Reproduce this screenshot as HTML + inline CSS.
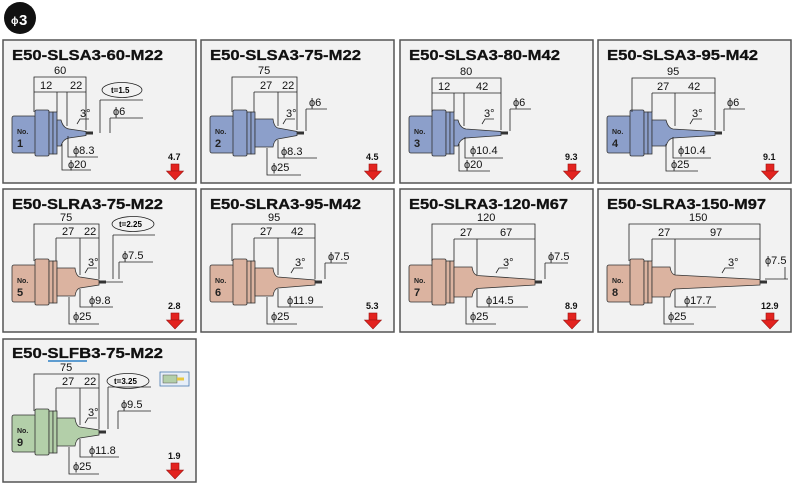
<!DOCTYPE html>
<html><head><meta charset="utf-8"><style>
html,body{margin:0;padding:0;background:#fff;}
svg{display:block;font-family:"Liberation Sans",sans-serif;}
.pn{fill:#f2f2f2;stroke:#555;stroke-width:1.5}
.tt{font-weight:900;font-size:15px;fill:#111;stroke:#111;stroke-width:0.3}
.d{stroke:#222;stroke-width:0.8;fill:none}
.lb{font-size:11px;fill:#111}
.sh{stroke:#333;stroke-width:0.8}
.nb{font-weight:bold;fill:#222}
.tip{fill:#333}
.wt{font-weight:bold;font-size:9px;fill:#111}
.ar{fill:#e3231f;stroke:#9a1512;stroke-width:0.6}
</style></head><body>
<svg width="793" height="485" viewBox="0 0 793 485" xmlns="http://www.w3.org/2000/svg">
<defs>
<g id="hold">
<rect x="9" y="76" width="24" height="37" rx="2"/>
<rect x="32" y="70" width="14" height="46" rx="1.5"/>
<rect x="46" y="72" width="4" height="42"/>
<rect x="50" y="72" width="4" height="42"/>
</g>
<g id="wa"><rect x="168" y="124" width="8" height="7"/><path d="M163.5,131 H180.5 L172,140 Z"/></g>
</defs>
<circle cx="20" cy="18" r="16" fill="#111"/>
<text x="11" y="24" font-size="10" fill="#fff" font-weight="bold">ϕ</text>
<text x="19" y="25" font-size="15" fill="#fff" font-weight="bold">3</text>

<!-- Panel 1 -->
<g transform="translate(3,40)">
<rect class="pn" x="0" y="0" width="193" height="143"/>
<text class="tt" x="9" y="20" textLength="151" lengthAdjust="spacingAndGlyphs">E50-SLSA3-60-M22</text>
<g fill="#8c9fca" class="sh"><use href="#hold"/><path d="M54,80 H58 Q60,88 66,89 L83,91.5 V95.5 L66,98 Q60,99 58,106 H54 Z"/></g>
<rect class="tip" x="83" y="91.5" width="7" height="3"/>
<text class="nb" x="14" y="94" font-size="7">No.</text><text class="nb" x="14" y="107" font-size="11">1</text>
<g class="d"><path d="M31,72 V37 H83 V90 M31,52 H83 M54,52 V72 M64,52 V86 M97,60 H140 M97,60 V93 M107,78 H140 M107,78 V93 M65,96 V117 H95 M59,104 V130 H88 M74,84 L77,79 H86"/><ellipse cx="119" cy="50" rx="20" ry="7.5"/></g>
<text class="lb" x="51" y="34">60</text><text class="lb" x="37" y="49">12</text><text class="lb" x="67" y="49">22</text>
<text class="lb" x="77" y="77" font-size="9">3°</text><text class="lb" x="110" y="75">ϕ6</text>
<text class="lb" x="70" y="114">ϕ8.3</text><text class="lb" x="65" y="128">ϕ20</text>
<text x="108" y="53" font-size="8" font-weight="bold">t=1.5</text>
<text class="wt" x="165" y="120">4.7</text><use href="#wa" class="ar"/>
</g>

<!-- Panel 2 -->
<g transform="translate(201,40)">
<rect class="pn" x="0" y="0" width="193" height="143"/>
<text class="tt" x="9" y="20" textLength="151" lengthAdjust="spacingAndGlyphs">E50-SLSA3-75-M22</text>
<g fill="#8c9fca" class="sh"><use href="#hold"/><path d="M54,79 H72 Q73,87 77,88 L96,91.5 V95.5 L77,99 Q73,100 72,107 H54 Z"/></g>
<rect class="tip" x="96" y="91.5" width="7" height="3"/>
<text class="nb" x="14" y="94" font-size="7">No.</text><text class="nb" x="14" y="107" font-size="11">2</text>
<g class="d"><path d="M31,72 V37 H96 V90 M53,52 H96 M53,52 V72 M77,52 V86 M105,69 H126 M105,69 V91 M77,100 V118 H116 M66,108 V135 H100 M82,84 L85,79 H94"/></g>
<text class="lb" x="57" y="34">75</text><text class="lb" x="59" y="49">27</text><text class="lb" x="81" y="49">22</text>
<text class="lb" x="85" y="77" font-size="9">3°</text><text class="lb" x="108" y="66">ϕ6</text>
<text class="lb" x="80" y="115">ϕ8.3</text><text class="lb" x="70" y="131">ϕ25</text>
<text class="wt" x="165" y="120">4.5</text><use href="#wa" class="ar"/>
</g>

<!-- Panel 3 -->
<g transform="translate(400,40)">
<rect class="pn" x="0" y="0" width="193" height="143"/>
<text class="tt" x="9" y="20" textLength="151" lengthAdjust="spacingAndGlyphs">E50-SLSA3-80-M42</text>
<g fill="#8c9fca" class="sh"><use href="#hold"/><path d="M54,80 H58 Q60,88 66,89 L101,91.5 V95.5 L66,98 Q60,99 58,106 H54 Z"/></g>
<rect class="tip" x="101" y="91.5" width="7" height="3"/>
<text class="nb" x="14" y="94" font-size="7">No.</text><text class="nb" x="14" y="107" font-size="11">3</text>
<g class="d"><path d="M32,72 V38 H101 V90 M32,53 H101 M54,53 V72 M64,53 V86 M110,69 H131 M110,69 V91 M65,97 V118 H103 M59,104 V131 H90 M82,84 L85,79 H94"/></g>
<text class="lb" x="60" y="35">80</text><text class="lb" x="38" y="50">12</text><text class="lb" x="76" y="50">42</text>
<text class="lb" x="84" y="77" font-size="9">3°</text><text class="lb" x="113" y="66">ϕ6</text>
<text class="lb" x="70" y="114">ϕ10.4</text><text class="lb" x="64" y="128">ϕ20</text>
<text class="wt" x="165" y="120">9.3</text><use href="#wa" class="ar"/>
</g>

<!-- Panel 4 -->
<g transform="translate(598,40)">
<rect class="pn" x="0" y="0" width="193" height="143"/>
<text class="tt" x="9" y="20" textLength="151" lengthAdjust="spacingAndGlyphs">E50-SLSA3-95-M42</text>
<g fill="#8c9fca" class="sh"><use href="#hold"/><path d="M54,80 H68 Q70,88 75,89 L117,91.5 V95.5 L75,98 Q70,99 68,106 H54 Z"/></g>
<rect class="tip" x="117" y="91.5" width="7" height="3"/>
<text class="nb" x="14" y="94" font-size="7">No.</text><text class="nb" x="14" y="107" font-size="11">4</text>
<g class="d"><path d="M34,72 V38 H117 V90 M54,53 H117 M54,53 V72 M77,53 V86 M126,69 H147 M126,69 V91 M75,97 V118 H113 M68,104 V131 H100 M92,84 L95,79 H104"/></g>
<text class="lb" x="69" y="35">95</text><text class="lb" x="59" y="50">27</text><text class="lb" x="90" y="50">42</text>
<text class="lb" x="94" y="77" font-size="9">3°</text><text class="lb" x="129" y="66">ϕ6</text>
<text class="lb" x="80" y="114">ϕ10.4</text><text class="lb" x="73" y="128">ϕ25</text>
<text class="wt" x="165" y="120">9.1</text><use href="#wa" class="ar"/>
</g>

<!-- Panel 5 -->
<g transform="translate(3,189)">
<rect class="pn" x="0" y="0" width="193" height="143"/>
<text class="tt" x="9" y="20" textLength="151" lengthAdjust="spacingAndGlyphs">E50-SLRA3-75-M22</text>
<g fill="#dbb3a0" class="sh"><use href="#hold"/><path d="M54,79 H72 Q73,87 77,88 L96,91 V96 L77,99 Q73,100 72,107 H54 Z"/></g>
<rect class="tip" x="96" y="91.5" width="7" height="3"/>
<text class="nb" x="14" y="94" font-size="7">No.</text><text class="nb" x="14" y="107" font-size="11">5</text>
<g class="d"><path d="M31,72 V35 H96 V90 M53,49 H96 M53,49 V72 M77,49 V86 M110,46 H152 M110,46 V90 M116,73 H150 M116,73 V90 M103,93 H120 M77,100 V118 H110 M66,108 V135 H96 M82,84 L85,79 H94"/><ellipse cx="130" cy="35" rx="21" ry="7.5"/></g>
<text class="lb" x="57" y="32">75</text><text class="lb" x="59" y="46">27</text><text class="lb" x="81" y="46">22</text>
<text class="lb" x="85" y="77" font-size="9">3°</text><text class="lb" x="119" y="70">ϕ7.5</text>
<text class="lb" x="86" y="115">ϕ9.8</text><text class="lb" x="70" y="131">ϕ25</text>
<text x="116" y="38" font-size="8" font-weight="bold">t=2.25</text>
<text class="wt" x="165" y="120">2.8</text><use href="#wa" class="ar"/>
</g>

<!-- Panel 6 -->
<g transform="translate(201,189)">
<rect class="pn" x="0" y="0" width="193" height="143"/>
<text class="tt" x="9" y="20" textLength="151" lengthAdjust="spacingAndGlyphs">E50-SLRA3-95-M42</text>
<g fill="#dbb3a0" class="sh"><use href="#hold"/><path d="M54,79 H72 Q73,87 77,88 L114,91 V96 L77,99 Q73,100 72,107 H54 Z"/></g>
<rect class="tip" x="114" y="91.5" width="7" height="3"/>
<text class="nb" x="14" y="94" font-size="7">No.</text><text class="nb" x="14" y="107" font-size="11">6</text>
<g class="d"><path d="M31,72 V35 H114 V90 M53,49 H114 M53,49 V72 M77,49 V86 M124,74 H146 M124,74 V90 M77,100 V118 H122 M66,108 V135 H96 M90,84 L93,79 H102"/></g>
<text class="lb" x="67" y="32">95</text><text class="lb" x="59" y="46">27</text><text class="lb" x="90" y="46">42</text>
<text class="lb" x="94" y="77" font-size="9">3°</text><text class="lb" x="127" y="71">ϕ7.5</text>
<text class="lb" x="86" y="115">ϕ11.9</text><text class="lb" x="70" y="131">ϕ25</text>
<text class="wt" x="165" y="120">5.3</text><use href="#wa" class="ar"/>
</g>

<!-- Panel 7 -->
<g transform="translate(400,189)">
<rect class="pn" x="0" y="0" width="193" height="143"/>
<text class="tt" x="9" y="20" textLength="159" lengthAdjust="spacingAndGlyphs">E50-SLRA3-120-M67</text>
<g fill="#dbb3a0" class="sh"><use href="#hold"/><path d="M54,78 H72 Q73,85 77,86.5 L135,90.5 V96 L77,99.5 Q73,101 72,108 H54 Z"/></g>
<rect class="tip" x="135" y="91.5" width="7" height="3"/>
<text class="nb" x="14" y="94" font-size="7">No.</text><text class="nb" x="14" y="107" font-size="11">7</text>
<g class="d"><path d="M32,72 V35 H135 V90 M54,50 H135 M54,50 V72 M77,50 V86 M145,74 H168 M145,74 V90 M77,100 V118 H128 M66,108 V135 H96 M96,84 L99,79 H108"/></g>
<text class="lb" x="77" y="32">120</text><text class="lb" x="60" y="47">27</text><text class="lb" x="100" y="47">67</text>
<text class="lb" x="103" y="77" font-size="9">3°</text><text class="lb" x="148" y="71">ϕ7.5</text>
<text class="lb" x="86" y="115">ϕ14.5</text><text class="lb" x="70" y="131">ϕ25</text>
<text class="wt" x="165" y="120">8.9</text><use href="#wa" class="ar"/>
</g>

<!-- Panel 8 -->
<g transform="translate(598,189)">
<rect class="pn" x="0" y="0" width="193" height="143"/>
<text class="tt" x="9" y="20" textLength="159" lengthAdjust="spacingAndGlyphs">E50-SLRA3-150-M97</text>
<g fill="#dbb3a0" class="sh"><use href="#hold"/><path d="M54,78 H72 Q73,85 77,86 L162,90.5 V96 L77,100 Q73,101 72,108 H54 Z"/></g>
<rect class="tip" x="162" y="91.5" width="7" height="3"/>
<text class="nb" x="14" y="94" font-size="7">No.</text><text class="nb" x="14" y="107" font-size="11">8</text>
<g class="d"><path d="M31,72 V35 H162 V90 M54,50 H162 M54,50 V72 M77,50 V86 M167,90 H190 M187,78 V90 M77,100 V118 H118 M66,108 V135 H96 M124,84 L127,79 H136"/></g>
<text class="lb" x="91" y="32">150</text><text class="lb" x="60" y="47">27</text><text class="lb" x="112" y="47">97</text>
<text class="lb" x="130" y="77" font-size="9">3°</text><text class="lb" x="167" y="75">ϕ7.5</text>
<text class="lb" x="86" y="115">ϕ17.7</text><text class="lb" x="70" y="131">ϕ25</text>
<text class="wt" x="163" y="120">12.9</text><use href="#wa" class="ar"/>
</g>

<!-- Panel 9 -->
<g transform="translate(3,339)">
<rect class="pn" x="0" y="0" width="193" height="143"/>
<text class="tt" x="9" y="19" textLength="151" lengthAdjust="spacingAndGlyphs">E50-SLFB3-75-M22</text>
<line x1="45" y1="22" x2="84" y2="22" stroke="#2d7fc4" stroke-width="1.6"/>
<g fill="#b3cfa9" class="sh"><use href="#hold"/><path d="M54,79 H72 Q73,87 77,88 L96,91 V96 L77,99 Q73,100 72,107 H54 Z"/></g>
<rect class="tip" x="96" y="91.5" width="7" height="3"/>
<text class="nb" x="14" y="94" font-size="7">No.</text><text class="nb" x="14" y="107" font-size="11">9</text>
<g class="d"><path d="M31,72 V35 H96 V90 M53,49 H96 M53,49 V72 M77,49 V86 M105,48 H148 M105,48 V90 M115,72 H148 M115,72 V90 M77,100 V118 H116 M66,108 V135 H96 M82,84 L85,79 H94"/><ellipse cx="125" cy="42" rx="21" ry="7.5"/></g>
<text class="lb" x="57" y="32">75</text><text class="lb" x="59" y="46">27</text><text class="lb" x="81" y="46">22</text>
<text class="lb" x="85" y="77" font-size="9">3°</text><text class="lb" x="118" y="69">ϕ9.5</text>
<text class="lb" x="86" y="115">ϕ11.8</text><text class="lb" x="70" y="131">ϕ25</text>
<text x="111" y="45" font-size="8" font-weight="bold">t=3.25</text>
<rect x="157" y="33" width="29" height="14" fill="#e6eef8" stroke="#4a7ab0" stroke-width="0.8"/>
<rect x="160" y="36" width="14" height="8" fill="#b3cfa9" stroke="#555" stroke-width="0.5"/>
<rect x="174" y="38.5" width="7" height="3" fill="#e8c840"/>
<text class="wt" x="165" y="120">1.9</text><use href="#wa" class="ar"/>
</g>
</svg>
</body></html>
